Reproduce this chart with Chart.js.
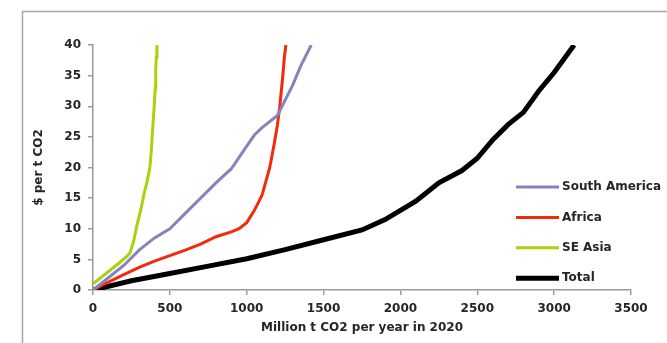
<!DOCTYPE html>
<html>
<head>
<meta charset="utf-8">
<script src="https://cdn.jsdelivr.net/npm/chart.js@4"></script>
<style>
  html, body { margin: 0; padding: 0; background: #fff; overflow: hidden; }
  #wrap { width: 667px; height: 343px; position: relative; }
</style>
</head>
<body>
<div id="wrap"><canvas id="chart" width="667" height="343"></canvas></div>
<script>
// 数据
const seriesNames = ['South America', 'Africa', 'SE Asia', 'Total'];
const seriesColors = ['#8484BC', '#F22A0C', '#A6D30A', '#000000'];
const seriesWidths = [3, 3, 3, 5];

const southAmericaX = [0, 100, 200, 300, 400, 500, 600, 700, 800, 900, 1000, 1050, 1100, 1200, 1250, 1300, 1350, 1420];
const southAmericaY = [0, 2, 4, 6.5, 8.5, 10, 12.5, 15, 17.5, 19.8, 23.5, 25.3, 26.5, 28.5, 31, 33.5, 36.5, 40];

const africaX = [0, 100, 200, 300, 400, 500, 600, 700, 800, 900, 950, 1000, 1050, 1100, 1150, 1180, 1200, 1215, 1235, 1245, 1255];
const africaY = [0, 1.3, 2.5, 3.7, 4.7, 5.6, 6.5, 7.5, 8.7, 9.5, 10, 11, 13, 15.5, 20, 24, 27, 30, 35, 38, 40];

const seAsiaX = [0, 50, 100, 150, 220, 240, 265, 285, 310, 335, 350, 370, 380, 390, 398, 405, 408, 412, 416];
const seAsiaY = [1, 2, 3, 4, 5.5, 6, 8, 10.5, 13, 16, 17.5, 20, 23, 27, 30, 33, 36, 38, 40];

const totalX = [0, 250, 500, 750, 1000, 1250, 1500, 1750, 1900, 2000, 2100, 2250, 2400, 2500, 2600, 2700, 2800, 2900, 3000, 3130];
const totalY = [0, 1.5, 2.7, 3.9, 5.1, 6.6, 8.2, 9.8, 11.5, 13, 14.5, 17.5, 19.5, 21.5, 24.5, 27, 29, 32.5, 35.5, 40];

const xTicks = [0, 500, 1000, 1500, 2000, 2500, 3000, 3500];
const yTicks = [0, 5, 10, 15, 20, 25, 30, 35, 40];

const xTitle = 'Million t CO2 per year in 2020';
const yTitle = '$ per t CO2';

const allX = [southAmericaX, africaX, seAsiaX, totalX];
const allY = [southAmericaY, africaY, seAsiaY, totalY];

function toPoints(xs, ys) {
    return xs.map((x, i) => ({ x: x, y: ys[i] }));
}

const datasets = seriesNames.map((name, i) => ({
    label: name,
    data: toPoints(allX[i], allY[i]),
    borderColor: seriesColors[i],
    backgroundColor: seriesColors[i],
    borderWidth: seriesWidths[i],
    pointRadius: 0,
    tension: 0,
    fill: false
}));

const font = { family: 'DejaVu Sans', size: 12, weight: 'bold' };
const axisColor = '#9a9a9a';
const textColor = '#262626';

// 外框
const framePlugin = {
    id: 'frame',
    beforeDraw(chart) {
        const c = chart.ctx;
        c.save();
        c.fillStyle = '#fff';
        c.fillRect(0, 0, chart.width, chart.height);
        c.strokeStyle = '#a6a6a6';
        c.lineWidth = 1.5;
        c.strokeRect(22.5, 11.5, 1000, 1000);
        c.restore();
    }
};

// 图例（画在绘图区内右侧）
const legendPlugin = {
    id: 'insideLegend',
    afterDraw(chart) {
        const c = chart.ctx;
        c.save();
        c.font = 'bold 12px "DejaVu Sans"';
        c.textBaseline = 'middle';
        c.fillStyle = textColor;
        chart.data.datasets.forEach((ds, i) => {
            const y = 187 + i * 30.4;
            c.strokeStyle = ds.borderColor;
            c.lineWidth = ds.borderWidth;
            c.beginPath();
            c.moveTo(516, y);
            c.lineTo(559, y);
            c.stroke();
            c.fillText(ds.label, 562, y);
        });
        c.restore();
    }
};

new Chart(document.getElementById('chart').getContext('2d'), {
    type: 'line',
    data: { datasets: datasets },
    plugins: [framePlugin, legendPlugin],
    options: {
        responsive: false,
        animation: false,
        layout: { padding: { left: 0, top: 45, right: 36, bottom: 0 } },
        plugins: { legend: { display: false }, tooltip: { enabled: false } },
        scales: {
            x: {
                type: 'linear',
                min: 0,
                max: 3500,
                afterFit: s => { s.height = 53; },
                afterBuildTicks: s => { s.ticks = xTicks.map(v => ({ value: v })); },
                ticks: { font: font, color: textColor, padding: 7, maxRotation: 0, callback: v => String(v) },
                grid: { display: true, drawOnChartArea: false, drawTicks: true, tickLength: 5, color: axisColor, lineWidth: 1.5 },
                border: { color: axisColor, width: 1.5 },
                title: { display: true, text: xTitle, font: font, color: textColor, padding: { top: 0, bottom: 8 } }
            },
            y: {
                type: 'linear',
                min: 0,
                max: 40,
                afterFit: s => { s.width = 93; },
                afterBuildTicks: s => { s.ticks = yTicks.map(v => ({ value: v })); },
                ticks: { font: font, color: textColor, padding: 7, callback: v => String(v) },
                grid: { display: true, drawOnChartArea: false, drawTicks: true, tickLength: 5, color: axisColor, lineWidth: 1.5 },
                border: { color: axisColor, width: 1.5 },
                title: { display: true, text: yTitle, font: font, color: textColor, padding: { top: 32, bottom: 0 } }
            }
        }
    }
});
</script>
</body>
</html>
